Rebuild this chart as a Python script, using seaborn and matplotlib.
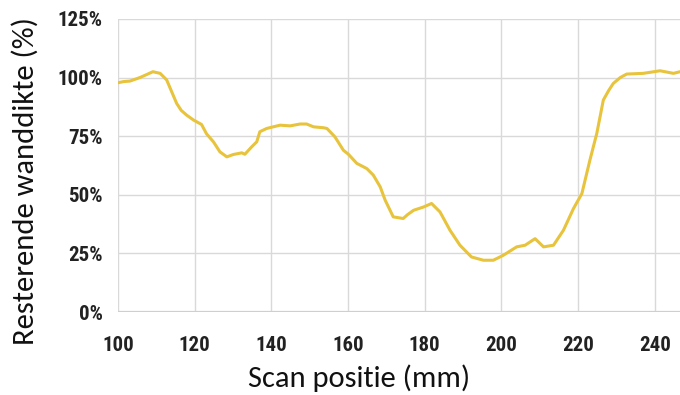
import matplotlib
matplotlib.use("Agg")
import matplotlib.pyplot as plt
import seaborn as sns
import pandas as pd
from matplotlib.ticker import FuncFormatter

# Remaining wall thickness along the scan
scan_pos_mm = [100.0, 101.5, 103.1, 104.5, 105.7, 107.5, 109.1, 111.0, 112.7, 114.0,
               115.3, 116.5, 117.9, 119.7, 121.8, 123.1, 124.9, 126.6, 128.4, 130.1,
               132.3, 133.1, 134.9, 136.2, 137.0, 138.8, 140.5, 142.3, 144.9, 147.5,
               149.2, 151.0, 153.6, 154.5, 156.6, 158.8, 160.1, 162.3, 164.9, 166.6,
               168.4, 169.7, 171.8, 174.4, 175.5, 177.1, 179.7, 181.8, 184.0, 186.6,
               189.2, 192.2, 195.3, 197.9, 200.5, 204.0, 206.2, 208.8, 211.0, 213.6,
               216.2, 218.8, 221.0, 223.1, 224.9, 226.6, 228.0, 229.2, 231.0, 232.7,
               237.0, 241.4, 244.9, 246.6]
wall_pct = [97.8, 98.3, 98.5, 99.3, 100.0, 101.3, 102.5, 101.8, 99.0, 94.0,
            89.0, 86.0, 84.0, 81.9, 80.0, 76.0, 72.6, 68.3, 66.2, 67.2,
            67.9, 67.3, 70.5, 72.6, 76.9, 78.3, 79.0, 79.7, 79.4, 80.2,
            80.2, 79.0, 78.6, 78.3, 74.7, 69.0, 67.3, 63.4, 61.2, 58.4,
            53.4, 47.7, 40.6, 39.9, 41.5, 43.4, 44.8, 46.3, 42.7, 34.9,
            28.5, 23.5, 22.1, 22.1, 24.2, 27.8, 28.5, 31.3, 27.8, 28.5,
            34.9, 44.1, 50.5, 64.8, 76.2, 90.4, 94.5, 97.5, 100.0, 101.5,
            101.8, 102.9, 101.8, 102.5]
x_ticks = [100, 120, 140, 160, 180, 200, 220, 240]
y_ticks = [0, 25, 50, 75, 100, 125]
x_title = "Scan positie (mm)"
y_title = "Resterende wanddikte (%)"

df = pd.DataFrame({"pos": scan_pos_mm, "pct": wall_pct})

sns.set_theme(style="white")
tick_font = ["Roboto Condensed", "Asap Condensed", "DejaVu Sans"]
label_font = ["Carlito", "Lato", "DejaVu Sans"]
plt.rcParams["font.family"] = tick_font

fig = plt.figure(figsize=(6.8, 3.95), dpi=100)
ax = fig.add_axes([0.1735, 0.21, 0.8265, 0.742])

sns.lineplot(data=df, x="pos", y="pct", ax=ax, color="#E8C33C", linewidth=2.2)

ax.set_xlim(100, 246.6)
ax.set_ylim(0, 125)
ax.set_xticks(x_ticks)
ax.set_yticks(y_ticks)
ax.yaxis.set_major_formatter(FuncFormatter(lambda v, _: f"{int(v)}%"))
ax.grid(True, color="#d9d9d9", linewidth=1.0)
ax.set_axisbelow(True)
for s in ax.spines.values():
    s.set_visible(False)
ax.axhline(0, color="#cfcfcf", linewidth=1.6, zorder=1)

ax.tick_params(axis="both", length=0)
ax.tick_params(axis="y", pad=11)
ax.tick_params(axis="x", pad=17)
for lab in ax.get_xticklabels() + ax.get_yticklabels():
    lab.set_family(tick_font)
    lab.set_fontweight("bold")
    lab.set_fontsize(15)
    lab.set_color("#222222")

ax.set_xlabel(x_title, fontsize=22, family=label_font, color="#111111")
ax.set_ylabel(y_title, fontsize=22, family=label_font, color="#111111")
ax.xaxis.set_label_coords((359 - 118) / 562, -(387 - 312) / 293, transform=ax.transAxes)
ax.xaxis.label.set_va("baseline")
ax.yaxis.set_label_coords(-(118 - 25) / 562, (312 - 181) / 293, transform=ax.transAxes)
ax.yaxis.label.set_va("center")

fig.savefig("out.png", dpi=100)
